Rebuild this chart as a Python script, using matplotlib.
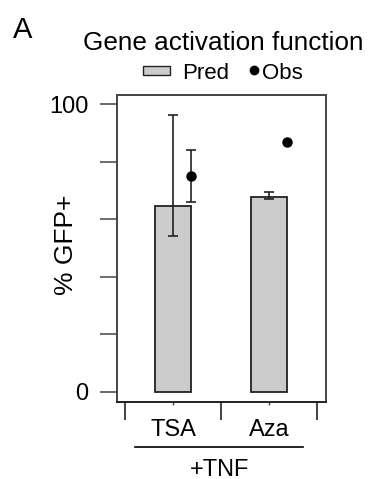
import matplotlib
matplotlib.use("Agg")
import matplotlib.pyplot as plt
from matplotlib.patches import Rectangle
from matplotlib.lines import Line2D

plt.rcParams["font.family"] = ["Liberation Sans", "DejaVu Sans"]

# Gene activation function: predicted vs observed % GFP+ under +TNF
conditions = ["TSA", "Aza"]
pred = [64.6, 67.6]
pred_lo = [54.2, 67.0]
pred_hi = [96.3, 69.4]
obs = [74.9, 86.9]
obs_lo = [65.9, 86.9]
obs_hi = [84.0, 86.9]

BAR_GRAY = "#cccccc"
AXIS_GRAY = "#444444"

fig = plt.figure(figsize=(3.72, 4.79), dpi=100)
ax = fig.add_axes([0.3137, 0.1614, 0.5618, 0.6403])

x = list(range(len(conditions)))
ax.bar(x, pred, width=0.38, color=BAR_GRAY, edgecolor="#222222",
       linewidth=1.3, zorder=2)

for xi, m, lo, hi in zip(x, pred, pred_lo, pred_hi):
    ax.errorbar([xi], [m], yerr=[[m - lo], [hi - m]], fmt="none",
                ecolor="#222222", elinewidth=1.2, capsize=3.6,
                capthick=1.2, zorder=3)

obs_x = [xi + 0.19 for xi in x]
for xo, m, lo, hi in zip(obs_x, obs, obs_lo, obs_hi):
    if hi - lo > 0:
        ax.errorbar([xo], [m], yerr=[[m - lo], [hi - m]], fmt="none",
                    ecolor="#222222", elinewidth=1.2, capsize=3.6,
                    capthick=1.2, zorder=3)
ax.plot(obs_x, obs, "o", color="black", markersize=6.5, zorder=4,
        clip_on=False)

ax.set_xlim(-0.59, 1.59)
ax.set_ylim(-3.5, 103.2)

# y axis: ticks every 20, only ends labelled
ax.set_yticks([0, 20, 40, 60, 80, 100])
ax.set_yticklabels(["0", "", "", "", "", "100"])
ax.tick_params(axis="y", direction="out", length=12.2, width=1.1,
               color=AXIS_GRAY, pad=8, labelsize=17)

# x axis: short ticks at bars, long ticks between groups
ax.set_xticks(x)
ax.set_xticklabels(conditions)
ax.set_xticks([-0.5, 0.5, 1.5], minor=True)
ax.tick_params(axis="x", which="major", direction="out", length=2.5,
               width=1.0, color=AXIS_GRAY, pad=10.2, labelsize=17)
ax.tick_params(axis="x", which="minor", direction="out", length=13,
               width=1.2, color="#222222")

for side in ax.spines.values():
    side.set_color(AXIS_GRAY)
    side.set_linewidth(1.4)
ax.spines["bottom"].set_color("#222222")

ax.set_ylabel("% GFP+", fontsize=19)
ax.yaxis.set_label_coords(-0.185, 0.51)

# treatment bracket
ax.plot([-0.40, 1.35], [-0.147, -0.147], color="black", linewidth=1.2,
        transform=ax.get_xaxis_transform(), clip_on=False)
ax.text(0.478, -0.186, "+TNF", transform=ax.get_xaxis_transform(),
        ha="center", va="top", fontsize=17)

# panel letter and title
fig.text(0.034, 0.9213, "A", fontsize=21, ha="left", va="baseline")
fig.text(0.5995, 0.8956, "Gene activation function", fontsize=18.8,
         ha="center", va="baseline")

# legend drawn by hand so the spacing stays tight
fig.patches.append(Rectangle((143 / 372, 1 - 75 / 479), 27 / 372, 9.3 / 479,
                             transform=fig.transFigure, facecolor=BAR_GRAY,
                             edgecolor="#222222", linewidth=1.0))
fig.text(182 / 372, 1 - 79 / 479, "Pred", fontsize=16, ha="left",
         va="baseline")
fig.lines.append(Line2D([254 / 372], [1 - 70.5 / 479], marker="o",
                        markersize=6, color="black",
                        transform=fig.transFigure))
fig.text(262 / 372, 1 - 79 / 479, "Obs", fontsize=16, ha="left",
         va="baseline")

fig.savefig("out.png", dpi=100)
